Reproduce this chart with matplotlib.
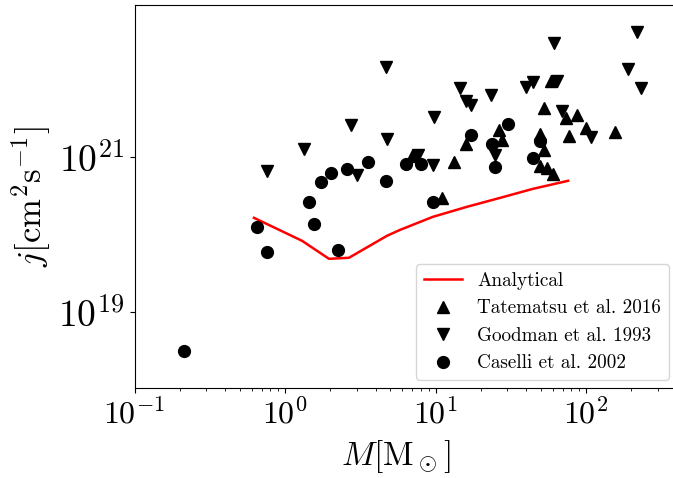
import matplotlib
matplotlib.use("Agg")
import matplotlib.pyplot as plt
import numpy as np

plt.rcParams['font.family'] = ['cmr10', 'DejaVu Serif']
plt.rcParams['mathtext.fontset'] = 'cm'
plt.rcParams['axes.formatter.use_mathtext'] = True

# Analytical curve
ana_M = [0.622, 1.30, 1.96, 2.66, 4.76, 5.81, 9.62, 16.2, 26.8, 44.5, 76.0]
ana_j = [1.63e20, 8.24e19, 4.84e19, 4.99e19, 9.57e19, 1.14e20, 1.68e20, 2.26e20, 2.94e20, 3.85e20, 4.88e20]

# Tatematsu et al. 2016
tat_M = [6.98, 11.0, 13.3, 16.0, 26.4, 27.7, 49.5, 52.6, 52.6, 49.5, 55.1, 60.4, 58.5, 73.6, 87.1, 77.1, 100, 156]
tat_j = [1.02e21, 2.94e20, 8.55e20, 1.46e21, 2.20e21, 1.64e21, 1.96e21, 4.23e21, 1.22e21, 7.59e20,
         7.16e20, 6.0e20, 9.4e21, 3.14e21, 3.44e21, 1.85e21, 2.34e21, 2.08e21]

# Goodman et al. 1993
goo_M = [0.759, 1.34, 2.75, 3.01, 4.69, 4.76, 9.77, 9.62, 14.6, 16.0, 17.2, 23.4, 24.8, 39.9, 44.5,
         64.1, 61.3, 69.2, 107.9, 190, 218, 232, 7.66]
goo_j = [6.55e20, 1.26e21, 2.55e21, 5.82e20, 1.42e22, 1.69e21, 3.24e21, 7.82e20, 7.64e21, 5.2e21,
         4.62e21, 6.21e21, 1.05e21, 7.87e21, 9.12e21, 9.40e21, 2.89e22, 3.86e21, 1.79e21, 1.34e22,
         4.01e22, 7.64e21, 1.05e21]

# Caselli et al. 2002
cas_M = [0.213, 0.652, 0.759, 1.444, 1.56, 1.73, 2.02, 2.58, 2.25, 3.56, 4.69, 6.37, 8.01, 9.62,
         17.2, 23.7, 24.8, 30.3, 44.5, 49.5]
cas_j = [3.2e18, 1.25e20, 5.96e19, 2.62e20, 1.36e20, 4.73e20, 6.17e20, 6.95e20, 6.32e19, 8.55e20,
         4.87e20, 8.06e20, 8.06e20, 2.62e20, 1.90e21, 1.46e21, 7.38e20, 2.63e21, 9.62e20, 1.59e21]

fig = plt.figure(figsize=(6.73, 4.78), dpi=100)
ax = fig.add_axes([134.5/673, 90/478, 545.5/673, (388 - 5)/478])

ax.plot(ana_M, ana_j, color='red', lw=1.8, label='Analytical')
ax.plot(tat_M, tat_j, ls='none', marker='^', color='black', ms=8.5, label='Tatematsu et al. 2016')
ax.plot(goo_M, goo_j, ls='none', marker='v', color='black', ms=8.5, label='Goodman et al. 1993')
ax.plot(cas_M, cas_j, ls='none', marker='o', color='black', ms=8.5, label='Caselli et al. 2002')

ax.set_xscale('log')
ax.set_yscale('log')
ax.set_xlim(0.1, 10 ** (-1 + 545.5 / 150.5))
ax.set_ylim(10 ** 18.023, 10 ** 22.95)
ax.set_yticks([1e19, 1e21])
ax.yaxis.set_minor_locator(matplotlib.ticker.NullLocator())
ax.tick_params(axis='y', labelsize=27)
ax.tick_params(axis='x', labelsize=23)

ax.set_xlabel(r'$M[\mathrm{M_\odot}]$', fontsize=24)
ax.set_ylabel(r'$j[\mathrm{cm^2s^{-1}}]$', fontsize=25)
ax.xaxis.set_label_coords((396 - 134.5) / 545.5, -0.13)

ax.legend(loc='lower right', fontsize=13.8, borderaxespad=0,
          bbox_to_anchor=((669 - 134.5) / 545.5, 8 / 383))

fig.savefig('out.png', dpi=100)
